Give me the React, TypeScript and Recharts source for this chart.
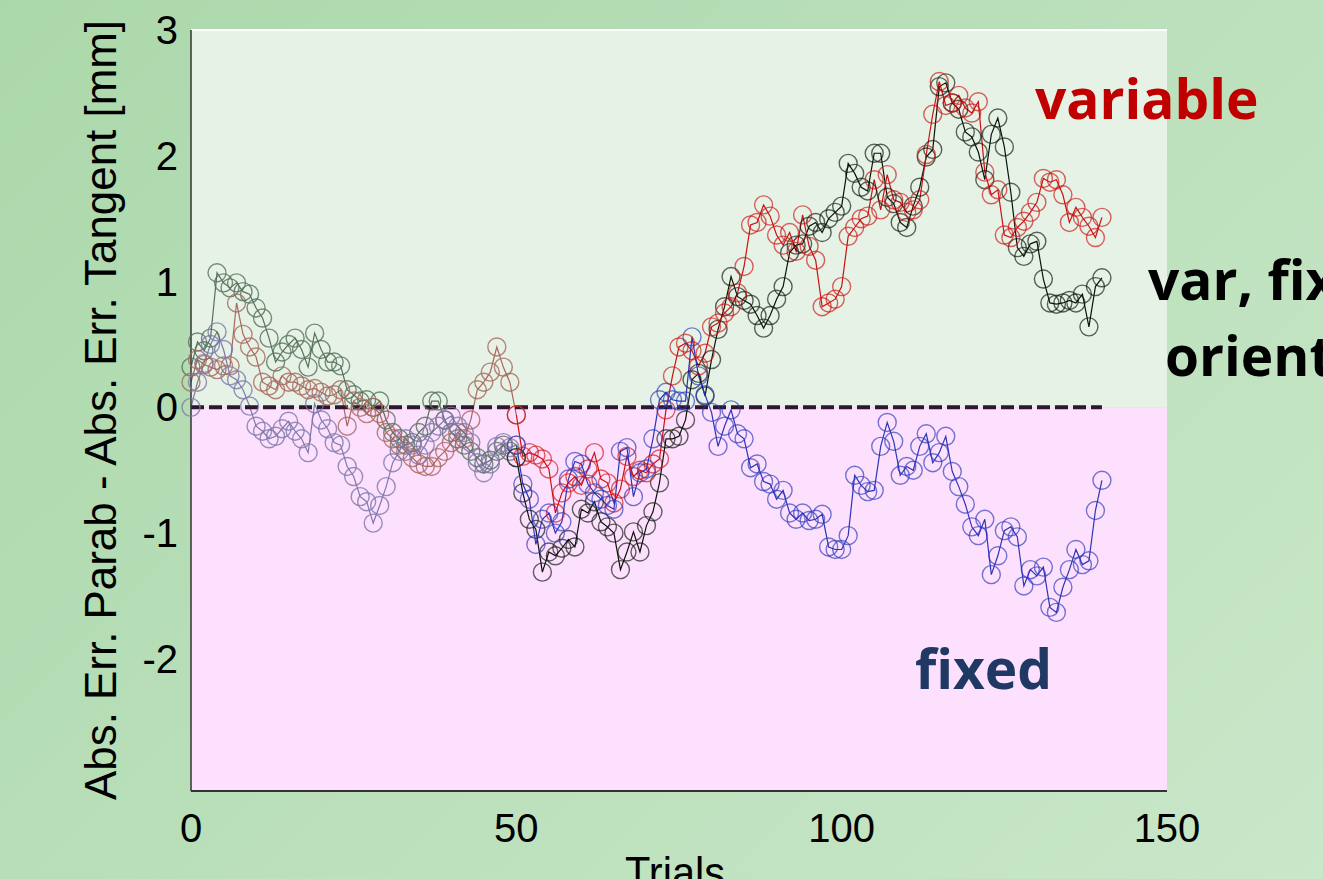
import React from 'react';
import { LineChart, Line, XAxis, YAxis, ReferenceArea, ReferenceLine } from 'recharts';

// trial numbers on the x axis
const trials = Array.from({ length: 141 }, (_, i) => i);

// var, fixed orient (black)
const blackValues = [
  0.32, 0.52, 0.45, 0.55, 1.07, 0.99, 0.95, 0.99, 0.92, 0.9,
  0.79, 0.71, 0.55, 0.36, 0.44, 0.5, 0.55, 0.46, 0.32, 0.59,
  0.46, 0.36, 0.36, 0.33, 0.14, 0.1, 0.05, 0.06, 0.0, 0.05,
  -0.1, -0.2, -0.25, -0.3, -0.28, -0.2, -0.15, 0.05, 0.05, -0.1,
  -0.2, -0.25, -0.3, -0.35, -0.4, -0.45, -0.42, -0.35, -0.3, -0.35,
  -0.4, -0.68, -0.89, -0.97, -1.31, -1.15, -1.18, -1.12, -1.05, -1.11,
  -0.81, -0.84, -0.75, -0.91, -0.95, -1.0, -1.29, -1.15, -0.99, -1.15,
  -0.94, -0.83, -0.6, -0.25, -0.25, -0.23, -0.1, 0.22, 0.27, 0.09,
  0.38, 0.62, 0.8, 1.04, 0.88, 0.85, 0.82, 0.73, 0.63, 0.73,
  0.86, 0.96, 1.23, 1.29, 1.3, 1.44, 1.47, 1.39, 1.5, 1.55,
  1.6, 1.94, 1.86, 1.75, 1.72, 2.02, 2.02, 1.67, 1.62, 1.47,
  1.43, 1.6, 1.75, 1.99, 2.05, 2.55, 2.58, 2.42, 2.37, 2.19,
  2.15, 2.03, 1.81, 2.17, 2.3, 2.07, 1.71, 1.27, 1.2, 1.3,
  1.32, 1.02, 0.83, 0.82, 0.83, 0.85, 0.83, 0.9, 0.64, 0.96,
  1.03,
];

// variable (red)
const redValues = [
  0.2, 0.38, 0.34, 0.32, 0.3, 0.33, 0.33, 0.83, 0.58, 0.48,
  0.4, 0.2, 0.17, 0.14, 0.25, 0.2, 0.2, 0.17, 0.14, 0.15,
  0.12, 0.09, 0.1, 0.14, -0.15, 0.05, 0.0, -0.05, 0.0, -0.05,
  -0.2, -0.25, -0.3, -0.35, -0.4, -0.45, -0.47, -0.47, -0.4, -0.35,
  -0.28, -0.2, -0.25, -0.1, 0.14, 0.2, 0.28, 0.48, 0.32, 0.2,
  -0.06, -0.39, -0.36, -0.38, -0.41, -0.49, -0.84, -0.68, -0.6, -0.55,
  -0.62, -0.49, -0.36, -0.57, -0.6, -0.76, -0.65, -0.39, -0.55, -0.5,
  -0.52, -0.45, -0.41, -0.02, 0.25, 0.48, 0.51, 0.45, 0.33, 0.43,
  0.64, 0.67, 0.75, 0.8, 0.91, 1.12, 1.45, 1.47, 1.61, 1.52,
  1.37, 1.29, 1.39, 1.24, 1.53, 1.28, 1.17, 0.8, 0.83, 0.86,
  0.96, 1.36, 1.43, 1.5, 1.52, 1.81, 1.57, 1.85, 1.65, 1.63,
  1.55, 1.57, 1.65, 2.01, 2.33, 2.59, 2.4, 2.42, 2.48, 2.38,
  2.34, 2.43, 1.87, 1.69, 1.73, 1.37, 1.35, 1.43, 1.48, 1.55,
  1.63, 1.82, 1.79, 1.81, 1.69, 1.47, 1.59, 1.51, 1.44, 1.35,
  1.51,
];

// fixed (blue)
const blueValues = [
  0.0, 0.2, 0.35, 0.5, 0.6, 0.46, 0.25, 0.22, 0.14, 0.01,
  -0.15, -0.19, -0.25, -0.23, -0.17, -0.11, -0.19, -0.25, -0.36, 0.03,
  -0.1, -0.17, -0.28, -0.3, -0.47, -0.55, -0.71, -0.75, -0.92, -0.78,
  -0.63, -0.44, -0.35, -0.25, -0.3, -0.38, -0.3, -0.2, -0.15, -0.1,
  -0.07, -0.15, -0.2, -0.28, -0.44, -0.52, -0.45, -0.31, -0.28, -0.32,
  -0.3, -0.61, -0.73, -1.09, -0.89, -0.84, -1.0, -0.91, -0.57, -0.43,
  -0.45, -0.61, -0.68, -0.73, -0.78, -0.81, -0.35, -0.32, -0.71, -0.52,
  -0.49, -0.25, 0.06, 0.12, 0.06, 0.05, 0.05, 0.56, 0.25, 0.1,
  -0.04, -0.31, -0.15, -0.02, -0.21, -0.25, -0.48, -0.45, -0.59, -0.61,
  -0.73, -0.66, -0.84, -0.89, -0.84, -0.9, -0.89, -0.85, -1.11, -1.13,
  -1.13, -1.02, -0.54, -0.62, -0.67, -0.66, -0.31, -0.12, -0.27, -0.54,
  -0.47, -0.5, -0.31, -0.21, -0.44, -0.36, -0.23, -0.51, -0.63, -0.77,
  -0.95, -1.02, -0.89, -1.33, -1.18, -0.98, -0.95, -1.03, -1.42, -1.29,
  -1.34, -1.27, -1.59, -1.63, -1.43, -1.29, -1.13, -1.25, -1.22, -0.82,
  -0.58,
];

const xTicks = [0, 50, 100, 150];
const yTicks = [-2, -1, 0, 1, 2, 3];

const toPoints = (vals: number[], from: number, to: number) =>
  trials.slice(from, to + 1).map((t) => ({ x: t, y: vals[t] }));

const series = [
  { key: 'black', vals: blackValues, early: '#55705c', late: '#0a140a' },
  { key: 'red', vals: redValues, early: '#a8685c', late: '#cc1010' },
  { key: 'blue', vals: blueValues, early: '#7d78aa', late: '#2a36b8' },
];

const tickFont = '"Liberation Sans", Arial, sans-serif';

const XTick = (props: any) => {
  const { x, y, payload } = props;
  return (
    <text x={x} y={y + 43} textAnchor="middle" fontSize={40} fontFamily={tickFont} fill="#000">
      {payload.value}
    </text>
  );
};

const YTick = (props: any) => {
  const { x, y, payload } = props;
  return (
    <text x={x - 5} y={y + 14} textAnchor="end" fontSize={40} fontFamily={tickFont} fill="#000">
      {payload.value}
    </text>
  );
};

const labelFont = '"Open Sans", "Noto Sans", sans-serif';

export default function App() {
  return (
    <div
      style={{
        position: 'fixed',
        left: 0,
        top: 0,
        width: 1323,
        height: 879,
        overflow: 'hidden',
        background: 'linear-gradient(135deg, #abd8ab 0%, #bde1bd 60%, #c9e7c9 100%)',
      }}
    >
      <div style={{ position: 'absolute', left: 0, top: 0 }}>
        <LineChart width={1323} height={879} margin={{ top: 30, right: 156, bottom: 28, left: 131 }}>
          <XAxis
            type="number"
            dataKey="x"
            domain={[0, 150]}
            ticks={xTicks}
            height={60}
            tick={<XTick />}
            tickLine={false}
            axisLine={{ stroke: '#333', strokeWidth: 2 }}
            allowDuplicatedCategory={false}
          />
          <YAxis
            type="number"
            dataKey="y"
            domain={[-3.05, 3]}
            ticks={yTicks}
            width={60}
            tick={<YTick />}
            tickLine={false}
            axisLine={{ stroke: '#333', strokeWidth: 1.5 }}
            allowDataOverflow
          />
          <ReferenceArea y1={0} y2={3} fill="#e6f2e6" fillOpacity={1} stroke="none" />
          <ReferenceArea y1={-3.05} y2={0} fill="#fde0fd" fillOpacity={1} stroke="none" />
          <ReferenceLine y={3} stroke="#ffffff" strokeWidth={2} />
          {series.map((s) => (
            <Line
              key={s.key + '-early'}
              data={toPoints(s.vals, 0, 50)}
              dataKey="y"
              type="linear"
              stroke={s.early}
              strokeWidth={1.2}
              dot={{ r: 9, fill: 'none', stroke: s.early, strokeWidth: 1.4, strokeOpacity: 0.8 }}
              activeDot={false}
              isAnimationActive={false}
            />
          ))}
          {series.map((s) => (
            <Line
              key={s.key + '-late'}
              data={toPoints(s.vals, 50, 140)}
              dataKey="y"
              type="linear"
              stroke={s.late}
              strokeWidth={1.2}
              dot={{ r: 9, fill: 'none', stroke: s.late, strokeWidth: 1.4, strokeOpacity: 0.65 }}
              activeDot={false}
              isAnimationActive={false}
            />
          ))}
          <ReferenceLine
            segment={[
              { x: 0, y: 0 },
              { x: 140, y: 0 },
            ]}
            stroke="#2e1530"
            strokeWidth={4}
            strokeDasharray="13 5"
          />
        </LineChart>
      </div>
      <svg
        width={1323}
        height={879}
        style={{ position: 'absolute', left: 0, top: 0, pointerEvents: 'none' }}
      >
        <text
          x={116}
          y={410}
          transform="rotate(-90, 116, 410)"
          textAnchor="middle"
          fontSize={44}
          fontFamily={tickFont}
          textLength={780}
          lengthAdjust="spacingAndGlyphs"
          fill="#000"
        >
          Abs. Err. Parab - Abs. Err. Tangent [mm]
        </text>
        <text
          x={675}
          y={888}
          textAnchor="middle"
          fontSize={44}
          fontFamily={tickFont}
          textLength={100}
          lengthAdjust="spacingAndGlyphs"
          fill="#000"
        >
          Trials
        </text>
        <text x={1035} y={119} fontSize={55} fontWeight={700} fontFamily={labelFont} fill="#c00000">
          variable
        </text>
        <text x={1148} y={300} fontSize={55} fontWeight={700} fontFamily={labelFont} fill="#000">
          var, fixed
        </text>
        <text x={1165} y={376} fontSize={55} fontWeight={700} fontFamily={labelFont} fill="#000">
          orientation
        </text>
        <text x={915} y={689} fontSize={55} fontWeight={700} fontFamily={labelFont} fill="#1f3864">
          fixed
        </text>
      </svg>
    </div>
  );
}
